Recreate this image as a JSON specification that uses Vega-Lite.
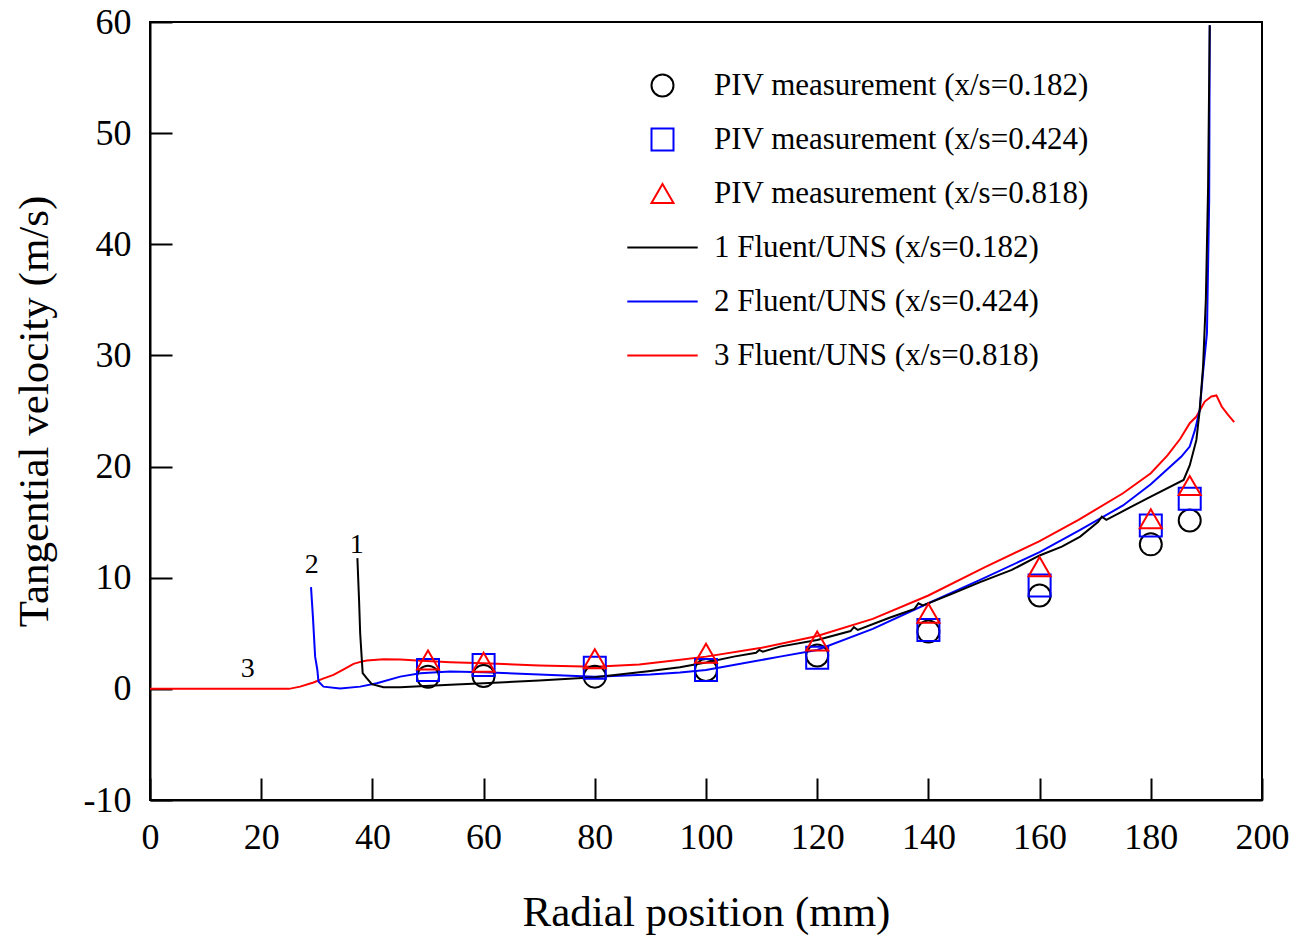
{
  "$schema": "https://vega.github.io/schema/vega-lite/v6.json",
  "width": 1112,
  "height": 778,
  "autosize": {"type": "none"},
  "padding": {"left": 150, "top": 22, "right": 34, "bottom": 137},
  "background": "white",
  "config": {
    "view": {"stroke": "black", "strokeWidth": 2},
    "font": "Liberation Serif",
    "axis": {
      "grid": false,
      "domainColor": "black",
      "domainWidth": 2,
      "tickColor": "black",
      "tickWidth": 2,
      "tickSize": -22,
      "labelFlush": false,
      "labelFont": "Liberation Serif",
      "labelFontSize": 36,
      "labelColor": "black",
      "labelExpr": "'' + datum.value",
      "titleFont": "Liberation Serif",
      "titleFontSize": 43,
      "titleFontWeight": "normal",
      "titleColor": "black"
    },
    "legend": {
      "orient": "none",
      "legendX": 497,
      "legendY": 48,
      "labelFont": "Liberation Serif",
      "labelFontSize": 31,
      "labelColor": "black",
      "labelLimit": 0,
      "labelOffset": 36,
      "symbolSize": 484,
      "symbolStrokeWidth": 2,
      "rowPadding": 22
    }
  },
  "datasets": {
    "lines": [
      {"series": "3 Fluent/UNS (x/s=0.818)", "r": 0, "v": 0},
      {"series": "3 Fluent/UNS (x/s=0.818)", "r": 25, "v": 0},
      {"series": "3 Fluent/UNS (x/s=0.818)", "r": 27, "v": 0.2},
      {"series": "3 Fluent/UNS (x/s=0.818)", "r": 29.4, "v": 0.57},
      {"series": "3 Fluent/UNS (x/s=0.818)", "r": 31, "v": 0.9},
      {"series": "3 Fluent/UNS (x/s=0.818)", "r": 33, "v": 1.26},
      {"series": "3 Fluent/UNS (x/s=0.818)", "r": 35, "v": 1.8},
      {"series": "3 Fluent/UNS (x/s=0.818)", "r": 36.6, "v": 2.25},
      {"series": "3 Fluent/UNS (x/s=0.818)", "r": 38, "v": 2.45},
      {"series": "3 Fluent/UNS (x/s=0.818)", "r": 39, "v": 2.55},
      {"series": "3 Fluent/UNS (x/s=0.818)", "r": 42, "v": 2.67},
      {"series": "3 Fluent/UNS (x/s=0.818)", "r": 45, "v": 2.65},
      {"series": "3 Fluent/UNS (x/s=0.818)", "r": 48, "v": 2.55},
      {"series": "3 Fluent/UNS (x/s=0.818)", "r": 54, "v": 2.4},
      {"series": "3 Fluent/UNS (x/s=0.818)", "r": 60, "v": 2.3},
      {"series": "3 Fluent/UNS (x/s=0.818)", "r": 70, "v": 2.1},
      {"series": "3 Fluent/UNS (x/s=0.818)", "r": 80, "v": 2.0},
      {"series": "3 Fluent/UNS (x/s=0.818)", "r": 88, "v": 2.2},
      {"series": "3 Fluent/UNS (x/s=0.818)", "r": 95, "v": 2.6},
      {"series": "3 Fluent/UNS (x/s=0.818)", "r": 100, "v": 2.9},
      {"series": "3 Fluent/UNS (x/s=0.818)", "r": 110, "v": 3.7},
      {"series": "3 Fluent/UNS (x/s=0.818)", "r": 120, "v": 4.75},
      {"series": "3 Fluent/UNS (x/s=0.818)", "r": 130, "v": 6.3},
      {"series": "3 Fluent/UNS (x/s=0.818)", "r": 140, "v": 8.4},
      {"series": "3 Fluent/UNS (x/s=0.818)", "r": 150, "v": 10.9},
      {"series": "3 Fluent/UNS (x/s=0.818)", "r": 160, "v": 13.3},
      {"series": "3 Fluent/UNS (x/s=0.818)", "r": 167, "v": 15.2},
      {"series": "3 Fluent/UNS (x/s=0.818)", "r": 175, "v": 17.6},
      {"series": "3 Fluent/UNS (x/s=0.818)", "r": 180, "v": 19.4},
      {"series": "3 Fluent/UNS (x/s=0.818)", "r": 183, "v": 21},
      {"series": "3 Fluent/UNS (x/s=0.818)", "r": 185.3, "v": 22.5},
      {"series": "3 Fluent/UNS (x/s=0.818)", "r": 187, "v": 23.9},
      {"series": "3 Fluent/UNS (x/s=0.818)", "r": 188.2, "v": 24.5},
      {"series": "3 Fluent/UNS (x/s=0.818)", "r": 189.7, "v": 25.85},
      {"series": "3 Fluent/UNS (x/s=0.818)", "r": 190.9, "v": 26.3},
      {"series": "3 Fluent/UNS (x/s=0.818)", "r": 191.8, "v": 26.4},
      {"series": "3 Fluent/UNS (x/s=0.818)", "r": 192.75, "v": 25.4},
      {"series": "3 Fluent/UNS (x/s=0.818)", "r": 193.9, "v": 24.65},
      {"series": "3 Fluent/UNS (x/s=0.818)", "r": 195, "v": 24.0},

      {"series": "2 Fluent/UNS (x/s=0.424)", "r": 28.96, "v": 9.15},
      {"series": "2 Fluent/UNS (x/s=0.424)", "r": 29.3, "v": 6.5},
      {"series": "2 Fluent/UNS (x/s=0.424)", "r": 29.7, "v": 2.9},
      {"series": "2 Fluent/UNS (x/s=0.424)", "r": 30.1, "v": 1.7},
      {"series": "2 Fluent/UNS (x/s=0.424)", "r": 30.3, "v": 0.66},
      {"series": "2 Fluent/UNS (x/s=0.424)", "r": 31.2, "v": 0.2},
      {"series": "2 Fluent/UNS (x/s=0.424)", "r": 34.2, "v": 0.03},
      {"series": "2 Fluent/UNS (x/s=0.424)", "r": 37.8, "v": 0.2},
      {"series": "2 Fluent/UNS (x/s=0.424)", "r": 40.8, "v": 0.5},
      {"series": "2 Fluent/UNS (x/s=0.424)", "r": 45, "v": 1.1},
      {"series": "2 Fluent/UNS (x/s=0.424)", "r": 48.6, "v": 1.4},
      {"series": "2 Fluent/UNS (x/s=0.424)", "r": 54, "v": 1.56},
      {"series": "2 Fluent/UNS (x/s=0.424)", "r": 60, "v": 1.5},
      {"series": "2 Fluent/UNS (x/s=0.424)", "r": 70, "v": 1.3},
      {"series": "2 Fluent/UNS (x/s=0.424)", "r": 80, "v": 1.1},
      {"series": "2 Fluent/UNS (x/s=0.424)", "r": 90, "v": 1.3},
      {"series": "2 Fluent/UNS (x/s=0.424)", "r": 95.3, "v": 1.47},
      {"series": "2 Fluent/UNS (x/s=0.424)", "r": 100, "v": 1.7},
      {"series": "2 Fluent/UNS (x/s=0.424)", "r": 113.3, "v": 2.9},
      {"series": "2 Fluent/UNS (x/s=0.424)", "r": 120, "v": 3.5},
      {"series": "2 Fluent/UNS (x/s=0.424)", "r": 130, "v": 5.4},
      {"series": "2 Fluent/UNS (x/s=0.424)", "r": 140, "v": 7.7},
      {"series": "2 Fluent/UNS (x/s=0.424)", "r": 149.3, "v": 9.8},
      {"series": "2 Fluent/UNS (x/s=0.424)", "r": 160, "v": 12.3},
      {"series": "2 Fluent/UNS (x/s=0.424)", "r": 167.3, "v": 14.3},
      {"series": "2 Fluent/UNS (x/s=0.424)", "r": 175, "v": 16.5},
      {"series": "2 Fluent/UNS (x/s=0.424)", "r": 180, "v": 18.4},
      {"series": "2 Fluent/UNS (x/s=0.424)", "r": 185.5, "v": 20.9},
      {"series": "2 Fluent/UNS (x/s=0.424)", "r": 187, "v": 21.8},
      {"series": "2 Fluent/UNS (x/s=0.424)", "r": 187.95, "v": 23.3},
      {"series": "2 Fluent/UNS (x/s=0.424)", "r": 188.8, "v": 25.1},
      {"series": "2 Fluent/UNS (x/s=0.424)", "r": 189.4, "v": 28.5},
      {"series": "2 Fluent/UNS (x/s=0.424)", "r": 190.1, "v": 32},
      {"series": "2 Fluent/UNS (x/s=0.424)", "r": 190.5, "v": 44},
      {"series": "2 Fluent/UNS (x/s=0.424)", "r": 190.6, "v": 59.7},

      {"series": "1 Fluent/UNS (x/s=0.182)", "r": 37.3, "v": 11.76},
      {"series": "1 Fluent/UNS (x/s=0.182)", "r": 37.6, "v": 8},
      {"series": "1 Fluent/UNS (x/s=0.182)", "r": 37.8, "v": 5.0},
      {"series": "1 Fluent/UNS (x/s=0.182)", "r": 38.25, "v": 1.41},
      {"series": "1 Fluent/UNS (x/s=0.182)", "r": 38.97, "v": 0.96},
      {"series": "1 Fluent/UNS (x/s=0.182)", "r": 39.9, "v": 0.42},
      {"series": "1 Fluent/UNS (x/s=0.182)", "r": 42, "v": 0.15},
      {"series": "1 Fluent/UNS (x/s=0.182)", "r": 45, "v": 0.15},
      {"series": "1 Fluent/UNS (x/s=0.182)", "r": 54, "v": 0.36},
      {"series": "1 Fluent/UNS (x/s=0.182)", "r": 60, "v": 0.5},
      {"series": "1 Fluent/UNS (x/s=0.182)", "r": 70, "v": 0.75},
      {"series": "1 Fluent/UNS (x/s=0.182)", "r": 80, "v": 1.05},
      {"series": "1 Fluent/UNS (x/s=0.182)", "r": 90, "v": 1.6},
      {"series": "1 Fluent/UNS (x/s=0.182)", "r": 95.3, "v": 1.95},
      {"series": "1 Fluent/UNS (x/s=0.182)", "r": 100, "v": 2.37},
      {"series": "1 Fluent/UNS (x/s=0.182)", "r": 105, "v": 2.9},
      {"series": "1 Fluent/UNS (x/s=0.182)", "r": 109, "v": 3.25},
      {"series": "1 Fluent/UNS (x/s=0.182)", "r": 109.6, "v": 3.5},
      {"series": "1 Fluent/UNS (x/s=0.182)", "r": 110.2, "v": 3.35},
      {"series": "1 Fluent/UNS (x/s=0.182)", "r": 113.3, "v": 3.8},
      {"series": "1 Fluent/UNS (x/s=0.182)", "r": 120, "v": 4.4},
      {"series": "1 Fluent/UNS (x/s=0.182)", "r": 126, "v": 5.2},
      {"series": "1 Fluent/UNS (x/s=0.182)", "r": 126.6, "v": 5.55},
      {"series": "1 Fluent/UNS (x/s=0.182)", "r": 127.3, "v": 5.3},
      {"series": "1 Fluent/UNS (x/s=0.182)", "r": 133, "v": 6.4},
      {"series": "1 Fluent/UNS (x/s=0.182)", "r": 137.5, "v": 7.2},
      {"series": "1 Fluent/UNS (x/s=0.182)", "r": 138.2, "v": 7.7},
      {"series": "1 Fluent/UNS (x/s=0.182)", "r": 139, "v": 7.5},
      {"series": "1 Fluent/UNS (x/s=0.182)", "r": 144, "v": 8.5},
      {"series": "1 Fluent/UNS (x/s=0.182)", "r": 149.3, "v": 9.6},
      {"series": "1 Fluent/UNS (x/s=0.182)", "r": 155, "v": 10.7},
      {"series": "1 Fluent/UNS (x/s=0.182)", "r": 160, "v": 12.0},
      {"series": "1 Fluent/UNS (x/s=0.182)", "r": 164, "v": 12.8},
      {"series": "1 Fluent/UNS (x/s=0.182)", "r": 167.3, "v": 13.7},
      {"series": "1 Fluent/UNS (x/s=0.182)", "r": 170.5, "v": 15.0},
      {"series": "1 Fluent/UNS (x/s=0.182)", "r": 171.2, "v": 15.5},
      {"series": "1 Fluent/UNS (x/s=0.182)", "r": 172, "v": 15.2},
      {"series": "1 Fluent/UNS (x/s=0.182)", "r": 175, "v": 16.0},
      {"series": "1 Fluent/UNS (x/s=0.182)", "r": 180, "v": 17.3},
      {"series": "1 Fluent/UNS (x/s=0.182)", "r": 185.9, "v": 18.8},
      {"series": "1 Fluent/UNS (x/s=0.182)", "r": 187, "v": 20.1},
      {"series": "1 Fluent/UNS (x/s=0.182)", "r": 188.2, "v": 22.4},
      {"series": "1 Fluent/UNS (x/s=0.182)", "r": 188.8, "v": 25.1},
      {"series": "1 Fluent/UNS (x/s=0.182)", "r": 189.4, "v": 29.0},
      {"series": "1 Fluent/UNS (x/s=0.182)", "r": 189.9, "v": 35},
      {"series": "1 Fluent/UNS (x/s=0.182)", "r": 190.3, "v": 45},
      {"series": "1 Fluent/UNS (x/s=0.182)", "r": 190.6, "v": 59.7}
    ],
    "piv": [
      {"series": "PIV measurement (x/s=0.182)", "r": 50, "v": 1.08},
      {"series": "PIV measurement (x/s=0.182)", "r": 60, "v": 1.15},
      {"series": "PIV measurement (x/s=0.182)", "r": 80, "v": 1.1},
      {"series": "PIV measurement (x/s=0.182)", "r": 100, "v": 1.7},
      {"series": "PIV measurement (x/s=0.182)", "r": 120, "v": 3.0},
      {"series": "PIV measurement (x/s=0.182)", "r": 140, "v": 5.15},
      {"series": "PIV measurement (x/s=0.182)", "r": 160, "v": 8.4},
      {"series": "PIV measurement (x/s=0.182)", "r": 180, "v": 13.0},
      {"series": "PIV measurement (x/s=0.182)", "r": 187, "v": 15.15},
      {"series": "PIV measurement (x/s=0.424)", "r": 50, "v": 1.7},
      {"series": "PIV measurement (x/s=0.424)", "r": 60, "v": 2.15},
      {"series": "PIV measurement (x/s=0.424)", "r": 80, "v": 1.9},
      {"series": "PIV measurement (x/s=0.424)", "r": 100, "v": 1.7},
      {"series": "PIV measurement (x/s=0.424)", "r": 120, "v": 2.8},
      {"series": "PIV measurement (x/s=0.424)", "r": 140, "v": 5.3},
      {"series": "PIV measurement (x/s=0.424)", "r": 160, "v": 9.3},
      {"series": "PIV measurement (x/s=0.424)", "r": 180, "v": 14.7},
      {"series": "PIV measurement (x/s=0.424)", "r": 187, "v": 17.1},
      {"series": "PIV measurement (x/s=0.818)", "r": 50, "v": 2.6},
      {"series": "PIV measurement (x/s=0.818)", "r": 60, "v": 2.4},
      {"series": "PIV measurement (x/s=0.818)", "r": 80, "v": 2.7},
      {"series": "PIV measurement (x/s=0.818)", "r": 100, "v": 3.2},
      {"series": "PIV measurement (x/s=0.818)", "r": 120, "v": 4.3},
      {"series": "PIV measurement (x/s=0.818)", "r": 140, "v": 6.8},
      {"series": "PIV measurement (x/s=0.818)", "r": 160, "v": 11.0},
      {"series": "PIV measurement (x/s=0.818)", "r": 180, "v": 15.3},
      {"series": "PIV measurement (x/s=0.818)", "r": 187, "v": 18.3}
    ],
    "labels": [
      {"label": "1", "r": 37.2, "v": 12.95},
      {"label": "2", "r": 29.1, "v": 11.1},
      {"label": "3", "r": 17.6, "v": 1.8}
    ]
  },
  "encoding": {
    "x": {
      "field": "r", "type": "quantitative",
      "scale": {"domain": [0, 200], "nice": false, "zero": false},
      "axis": {"values": [0, 20, 40, 60, 80, 100, 120, 140, 160, 180, 200], "labelPadding": 42, "title": "Radial position (mm)", "titlePadding": 36}
    },
    "y": {
      "field": "v", "type": "quantitative",
      "scale": {"domain": [-10, 60], "nice": false, "zero": false},
      "axis": {"values": [-10, 0, 10, 20, 30, 40, 50, 60], "labelPadding": 41, "title": "Tangential velocity (m/s)", "titlePadding": 27}
    }
  },
  "layer": [
    {
      "data": {"name": "lines"},
      "mark": {"type": "line", "strokeWidth": 2, "clip": true},
      "encoding": {
        "color": {
          "field": "series", "type": "nominal",
          "scale": {"domain": ["1 Fluent/UNS (x/s=0.182)", "2 Fluent/UNS (x/s=0.424)", "3 Fluent/UNS (x/s=0.818)"], "range": ["black", "#0000ff", "#ff0000"]},
          "legend": null
        },
        "order": {"field": "r", "type": "quantitative"}
      }
    },
    {
      "data": {"name": "piv"},
      "mark": {"type": "point", "filled": false, "strokeWidth": 2, "size": 484, "opacity": 1},
      "encoding": {
        "color": {
          "field": "series", "type": "nominal",
          "scale": {
            "domain": ["PIV measurement (x/s=0.182)", "PIV measurement (x/s=0.424)", "PIV measurement (x/s=0.818)", "1 Fluent/UNS (x/s=0.182)", "2 Fluent/UNS (x/s=0.424)", "3 Fluent/UNS (x/s=0.818)"],
            "range": ["black", "#0000ff", "#ff0000", "black", "#0000ff", "#ff0000"]
          },
          "legend": {"title": null}
        },
        "shape": {
          "field": "series", "type": "nominal",
          "scale": {
            "domain": ["PIV measurement (x/s=0.182)", "PIV measurement (x/s=0.424)", "PIV measurement (x/s=0.818)", "1 Fluent/UNS (x/s=0.182)", "2 Fluent/UNS (x/s=0.424)", "3 Fluent/UNS (x/s=0.818)"],
            "range": ["circle", "square", "triangle-up", "M-3.2,0H3.2", "M-3.2,0H3.2", "M-3.2,0H3.2"]
          },
          "legend": {"title": null}
        }
      }
    },
    {
      "data": {"name": "labels"},
      "mark": {"type": "text", "font": "Liberation Serif", "fontSize": 28, "color": "black", "baseline": "middle", "align": "center"},
      "encoding": {
        "text": {"field": "label", "type": "nominal"}
      }
    }
  ],
  "resolve": {"scale": {"color": "independent", "shape": "independent"}, "legend": {"color": "independent", "shape": "independent"}}
}
